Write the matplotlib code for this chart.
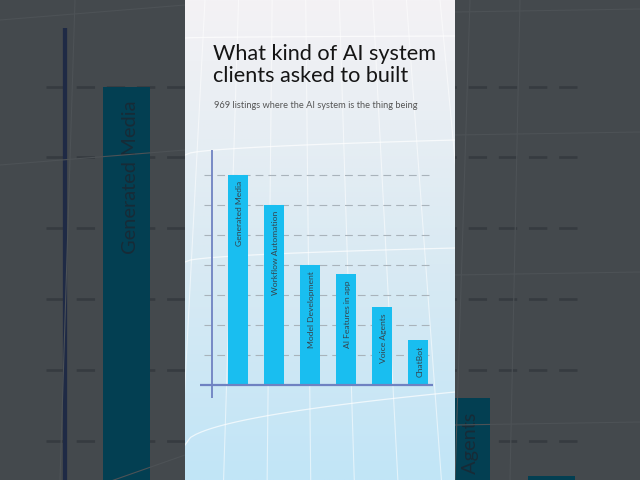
"""
AI system types requested by clients - vertical short-video frame
center panel: bar chart ; sides: zoomed, darkened copy of the chart
"""

import numpy as np
import matplotlib.pyplot as plt
from matplotlib.colors import LinearSegmentedColormap

categories = ["Generated Media", "Workflow Automation", "Model Development",
              "AI Features in app", "Voice Agents", "ChatBot"]
values = [280, 240, 160, 148, 104, 60]
grid_vals = [40, 80, 120, 160, 200, 240, 280]

title = "What kind of AI system\nclients asked to built"
subtitle = "969 listings where the AI system is the thing being"

FONT = ["Lato", "DejaVu Sans"]
W, H = 640, 480
ZOOM = 2.36  # zoom factor of the blurred background copy
PANEL = (185, 455)

# chart area in pixels (left, right, top, bottom)
CL, CR, CT, CB = 200, 433, 150, 398
XLIM = (-1.056, 5.417)
YLIM = (-17.3, 313.3)


def rect(l, r, t, b, s=1.0):
    x0, x1 = l / W, r / W
    y0, y1 = 1 - b / H, 1 - t / H
    x0, x1 = 0.5 + s * (x0 - 0.5), 0.5 + s * (x1 - 0.5)
    y0, y1 = 0.5 + s * (y0 - 0.5), 0.5 + s * (y1 - 0.5)
    return [x0, y0, x1 - x0, y1 - y0]


def draw_chart(ax, s, dark):
    bar_c = "#033f52" if dark else "#19bef0"
    txt_c = "#172b37" if dark else "#35434d"
    axis_c = "#1f2a45" if dark else "#6f82c2"
    grid_c = "#363b40" if dark else "#a9b3bb"

    x = np.arange(len(categories))
    ax.hlines(grid_vals, -0.944, XLIM[1], colors=grid_c, lw=0.8 * s,
              linestyles=(0, (7, 4.5)), zorder=1)
    ax.bar(x, values, width=0.556, color=bar_c, zorder=2)
    ax.set_xlim(*XLIM)
    ax.set_ylim(*YLIM)
    for xi, v, lab in zip(x, values, categories):
        if dark:
            # only the labels that show beside the center panel
            px, py = fig.transFigure.inverted().transform(
                ax.transData.transform((xi, v - 8)))
            px, py = px * W, (1 - py) * H
            if PANEL[0] < px < PANEL[1] or py > H:
                continue
        ax.text(xi + 0.05, v - 8, lab, rotation=90, ha="center", va="top",
                fontsize=6.1 * s, color=txt_c, family=FONT, zorder=3)
    ax.axvline(-0.722, color=axis_c, lw=1.3 * s, zorder=3)
    ax.axhline(0, xmin=0, xmax=1, color=axis_c, lw=1.6 * s, zorder=3)
    ax.axis("off")


fig = plt.figure(figsize=(6.4, 4.8), dpi=100, facecolor="#44494d")

# background copy, zoomed and darkened
ax_bg = fig.add_axes(rect(CL, CR, CT, CB, ZOOM), zorder=0)
ax_bg.patch.set_alpha(0)
draw_chart(ax_bg, ZOOM, dark=True)

# faint lines on the dark background
ax_bgl = fig.add_axes([0, 0, 1, 1], zorder=0.5)
ax_bgl.set_xlim(0, W)
ax_bgl.set_ylim(H, 0)
ax_bgl.axis("off")
ax_bgl.patch.set_alpha(0)
for x0, x1 in [(75, 60), (232, 205), (470, 455), (520, 510)]:
    ax_bgl.plot([x0, x1], [0, H], color="#4d5256", lw=0.8)
for y0, y1 in [(520, 455), (165, 150), (20, 5)]:
    ax_bgl.plot([0, 185], [y0, y1], color="#4d5256", lw=0.8)
for y in [12, 135, 275, 425]:
    ax_bgl.plot([455, 640], [y, y - 3], color="#4d5256", lw=0.8)

# light center panel with vertical gradient
ax_p = fig.add_axes(rect(PANEL[0], PANEL[1], 0, 480), zorder=1)
cmap = LinearSegmentedColormap.from_list(
    "panel", [(0, "#c1e5f7"), (0.45, "#d9eaf3"), (0.75, "#e8eef3"), (1, "#f4f2f5")])
ax_p.imshow(np.linspace(0, 1, 256).reshape(-1, 1), cmap=cmap, origin="lower",
            aspect="auto", extent=[0, 270, 480, 0])
ax_p.set_xlim(0, 270)
ax_p.set_ylim(480, 0)
# perspective grid decoration
for xt, xb in zip(np.linspace(20, 255, 8), np.linspace(-5, 300, 8)):
    ax_p.plot([xt, xb], [0, 480], color="white", lw=0.8, alpha=0.55)
for yl, yr in [(38, 36), (155, 140), (262, 248), (445, 392)]:
    xx = np.linspace(0, 270, 50)
    yy = yl + (yr - yl) * np.sqrt(xx / 270)
    ax_p.plot(xx, yy, color="white", lw=0.9, alpha=0.7)
ax_p.axis("off")

# main chart
ax = fig.add_axes(rect(CL, CR, CT, CB), zorder=2)
ax.patch.set_alpha(0)
draw_chart(ax, 1.0, dark=False)

fig.text(213 / W, 1 - 44 / H, title, ha="left", va="top", fontsize=15.6,
         color="#151515", family=FONT, linespacing=1.12, zorder=3)
fig.text(214 / W, 1 - 106 / H, subtitle, ha="left", va="center", fontsize=6.7,
         color="#555555", family=FONT, zorder=3)

fig.savefig("out.png", dpi=100, facecolor=fig.get_facecolor())
